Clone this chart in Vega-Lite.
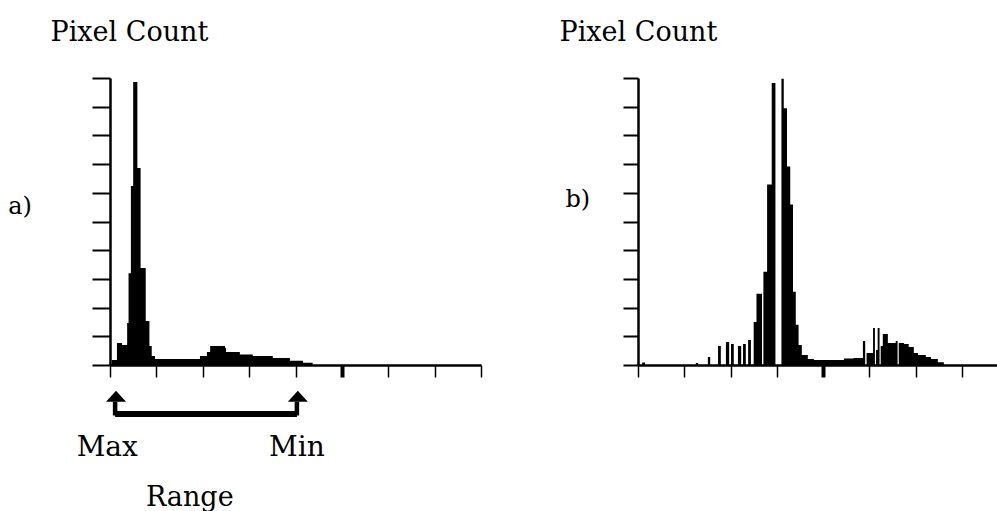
{
  "$schema": "https://vega.github.io/schema/vega-lite/v6.json",
  "background": "white",
  "padding": {"left": 8, "top": 18, "right": 0, "bottom": 0},
  "spacing": 77,
  "config": {
    "view": {"stroke": null},
    "font": "DejaVu Serif",
    "axis": {"domainColor": "black", "tickColor": "black", "grid": false, "labels": false}
  },
  "hconcat": [
    {
      "width": 371,
      "height": 287,
      "encoding": {
        "x": {"field": "px", "type": "quantitative",
              "scale": {"domain": [0, 8], "nice": false, "zero": false},
              "axis": {"values": [0, 1, 2, 3, 4, 5, 6, 7, 8], "title": null, "domainWidth": 2.5, "tickSize": 12,
                       "tickWidth": {"condition": {"test": "datum.value === 5", "value": 4}, "value": 1.5}}},
        "y": {"field": "py", "type": "quantitative",
              "scale": {"domain": [0, 10], "nice": false, "zero": false},
              "axis": {"values": [0, 1, 2, 3, 4, 5, 6, 7, 8, 9, 10], "title": "Pixel Count", "titleAngle": 0,
                       "titleX": -60, "titleY": -38, "titleAlign": "left", "titleBaseline": "alphabetic",
                       "titleFont": "DejaVu Serif", "titleFontSize": 27, "titleFontWeight": "normal", "titleColor": "black",
                       "tickSize": 18, "tickWidth": 2, "domainWidth": 2.5}}
      },
      "layer": [
        {
          "data": {"values": [
            {"px": 0.04, "py": 0.17},
            {"px": 0.15, "py": 0.77},
            {"px": 0.26, "py": 0.70},
            {"px": 0.37, "py": 1.46},
            {"px": 0.40, "py": 3.2},
            {"px": 0.45, "py": 6.24},
            {"px": 0.50, "py": 9.86},
            {"px": 0.59, "py": 6.86},
            {"px": 0.66, "py": 3.38},
            {"px": 0.77, "py": 1.53},
            {"px": 0.85, "py": 0.66},
            {"px": 0.90, "py": 0.31},
            {"px": 0.97, "py": 0.21},
            {"px": 1.94, "py": 0.31},
            {"px": 2.09, "py": 0.45},
            {"px": 2.16, "py": 0.66},
            {"px": 2.48, "py": 0.60},
            {"px": 2.50, "py": 0.45},
            {"px": 2.80, "py": 0.37},
            {"px": 3.08, "py": 0.31},
            {"px": 3.51, "py": 0.24},
            {"px": 3.88, "py": 0.15},
            {"px": 4.16, "py": 0.08},
            {"px": 4.37, "py": 0}
          ]},
          "mark": {"type": "area", "interpolate": "step-after", "color": "black", "opacity": 1},
          "encoding": {"y2": {"datum": 0}}
        },
        {
          "data": {"values": [{"label": "a)", "px": -1.94, "py": 5.5}]},
          "mark": {"type": "text", "font": "DejaVu Serif", "fontSize": 24, "align": "center", "baseline": "middle", "color": "black"},
          "encoding": {"text": {"field": "label"}}
        },
        {
          "data": {"values": [
            {"px": 0.11, "py": -1.28, "py2": -1.76},
            {"px": 4.03, "py": -1.28, "py2": -1.76}
          ]},
          "mark": {"type": "rule", "color": "black", "strokeWidth": 4.5},
          "encoding": {"y2": {"field": "py2"}}
        },
        {
          "data": {"values": [{"px": 0.11, "px2": 4.03, "py": -1.71}]},
          "mark": {"type": "rule", "color": "black", "strokeWidth": 6},
          "encoding": {"x2": {"field": "px2"}}
        },
        {
          "data": {"values": [{"px": 0.13, "py": -1.11}, {"px": 4.05, "py": -1.11}]},
          "mark": {"type": "point", "shape": "M0,-0.6L1,0.5L-1,0.5Z", "size": 400, "filled": true, "color": "black", "opacity": 1},
          "encoding": {}
        },
        {
          "data": {"values": [
            {"label": "Max", "px": -0.06, "py": -3.17},
            {"label": "Min", "px": 4.03, "py": -3.17}
          ]},
          "mark": {"type": "text", "font": "DejaVu Serif", "fontSize": 28, "align": "center", "baseline": "alphabetic", "color": "black"},
          "encoding": {"text": {"field": "label"}}
        },
        {
          "data": {"values": [{"label": "Range", "px": 1.72, "py": -4.91}]},
          "mark": {"type": "text", "font": "DejaVu Serif", "fontSize": 27, "align": "center", "baseline": "alphabetic", "color": "black"},
          "encoding": {"text": {"field": "label"}}
        }
      ]
    },
    {
      "width": 360,
      "height": 287,
      "encoding": {
        "x": {"field": "px", "type": "quantitative",
              "scale": {"domain": [0, 7.78], "nice": false, "zero": false},
              "axis": {"values": [0, 1, 2, 3, 4, 5, 6, 7], "title": null, "domainWidth": 2.5, "tickSize": 12,
                       "tickWidth": {"condition": {"test": "datum.value === 4", "value": 4}, "value": 1.5}}},
        "y": {"field": "py", "type": "quantitative",
              "scale": {"domain": [0, 10], "nice": false, "zero": false},
              "axis": {"values": [0, 1, 2, 3, 4, 5, 6, 7, 8, 9, 10], "title": "Pixel Count", "titleAngle": 0,
                       "titleX": -79, "titleY": -38, "titleAlign": "left", "titleBaseline": "alphabetic",
                       "titleFont": "DejaVu Serif", "titleFontSize": 27, "titleFontWeight": "normal", "titleColor": "black",
                       "tickSize": 15, "tickWidth": 2, "domainWidth": 2.5}}
      },
      "layer": [
        {
          "data": {"values": [
            {"px": 0.09, "py": 0.09},
            {"px": 0.15, "py": 0},
            {"px": 1.25, "py": 0.07},
            {"px": 1.30, "py": 0},
            {"px": 1.51, "py": 0.28},
            {"px": 1.56, "py": 0},
            {"px": 1.73, "py": 0.66},
            {"px": 1.79, "py": 0},
            {"px": 1.90, "py": 0.80},
            {"px": 1.97, "py": 0},
            {"px": 2.01, "py": 0.73},
            {"px": 2.07, "py": 0},
            {"px": 2.16, "py": 0.66},
            {"px": 2.23, "py": 0},
            {"px": 2.27, "py": 0.73},
            {"px": 2.33, "py": 0},
            {"px": 2.38, "py": 0.87},
            {"px": 2.44, "py": 0},
            {"px": 2.50, "py": 1.50},
            {"px": 2.56, "py": 2.48},
            {"px": 2.68, "py": 0},
            {"px": 2.71, "py": 3.25},
            {"px": 2.79, "py": 6.29},
            {"px": 2.89, "py": 9.83},
            {"px": 2.97, "py": 0},
            {"px": 3.10, "py": 9.97},
            {"px": 3.15, "py": 8.95},
            {"px": 3.22, "py": 6.92},
            {"px": 3.29, "py": 5.59},
            {"px": 3.35, "py": 2.55},
            {"px": 3.41, "py": 1.40},
            {"px": 3.47, "py": 0.70},
            {"px": 3.54, "py": 0.35},
            {"px": 3.67, "py": 0.21},
            {"px": 3.80, "py": 0.17},
            {"px": 4.45, "py": 0.23},
            {"px": 4.66, "py": 0.24},
            {"px": 4.86, "py": 0.84},
            {"px": 4.91, "py": 0},
            {"px": 4.94, "py": 0.42},
            {"px": 5.08, "py": 1.29},
            {"px": 5.12, "py": 0},
            {"px": 5.145, "py": 0.52},
            {"px": 5.18, "py": 1.29},
            {"px": 5.22, "py": 0},
            {"px": 5.245, "py": 0.66},
            {"px": 5.29, "py": 1.08},
            {"px": 5.40, "py": 0.77},
            {"px": 5.57, "py": 0.84},
            {"px": 5.61, "py": 0},
            {"px": 5.635, "py": 0.77},
            {"px": 5.75, "py": 0.73},
            {"px": 5.85, "py": 0.63},
            {"px": 5.96, "py": 0.42},
            {"px": 6.05, "py": 0.35},
            {"px": 6.22, "py": 0.28},
            {"px": 6.33, "py": 0.21},
            {"px": 6.48, "py": 0.10},
            {"px": 6.61, "py": 0}
          ]},
          "mark": {"type": "area", "interpolate": "step-after", "color": "black", "opacity": 1},
          "encoding": {"y2": {"datum": 0}}
        },
        {
          "data": {"values": [{"label": "b)", "px": -1.30, "py": 5.75}]},
          "mark": {"type": "text", "font": "DejaVu Serif", "fontSize": 24, "align": "center", "baseline": "middle", "color": "black"},
          "encoding": {"text": {"field": "label"}}
        }
      ]
    }
  ]
}
